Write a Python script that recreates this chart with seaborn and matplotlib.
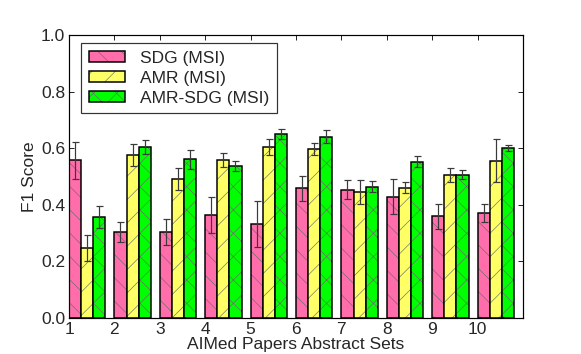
import numpy as np
import pandas as pd
import matplotlib
matplotlib.use("Agg")
import matplotlib.pyplot as plt
from matplotlib.colors import to_rgba
import seaborn as sns

sets = [1, 2, 3, 4, 5, 6, 7, 8, 9, 10]
methods = ["SDG (MSI)", "AMR (MSI)", "AMR-SDG (MSI)"]

sdg = [0.557, 0.305, 0.304, 0.363, 0.332, 0.459, 0.453, 0.428, 0.360, 0.371]
sdg_err = [0.066, 0.035, 0.046, 0.063, 0.080, 0.044, 0.034, 0.062, 0.044, 0.031]
amr = [0.248, 0.575, 0.491, 0.558, 0.604, 0.597, 0.446, 0.460, 0.504, 0.556]
amr_err = [0.045, 0.039, 0.040, 0.024, 0.027, 0.020, 0.042, 0.019, 0.025, 0.077]
amr_sdg = [0.356, 0.604, 0.561, 0.538, 0.650, 0.640, 0.464, 0.552, 0.506, 0.600]
amr_sdg_err = [0.039, 0.026, 0.034, 0.018, 0.019, 0.023, 0.020, 0.019, 0.016, 0.010]

colors = ["#ff6eaa", "#ffff66", "#00ff00"]
hatches = ["\\", "/", "x"]

df = pd.DataFrame({
    "set": sets * 3,
    "method": np.repeat(methods, len(sets)),
    "f1": sdg + amr + amr_sdg,
    "err": sdg_err + amr_err + amr_sdg_err,
})

# low dpi so the hatch spacing comes out close to the original
DPI = 70


def px(v):
    # size in pixels -> points
    return v * 72 / DPI


FS = px(17.4)

sns.set_style("ticks")
plt.rcParams["font.family"] = ["Liberation Sans", "DejaVu Sans"]
plt.rcParams["hatch.linewidth"] = px(0.6)

fig = plt.figure(figsize=(581 / DPI, 354 / DPI), dpi=DPI)
ax = fig.add_axes([69 / 581, 1 - 318 / 354, 454 / 581, 283 / 354])

sns.barplot(data=df, x="set", y="f1", hue="method", palette=colors,
            saturation=1, errorbar=None, width=0.8, edgecolor="black",
            linewidth=px(1.5), ax=ax)

for cont, h, m in zip(ax.containers, hatches, methods):
    errs = df.loc[df["method"] == m, "err"].values
    xs, ys = [], []
    for bar in cont:
        bar.set_hatch(h)
        bar._hatch_color = to_rgba("#6a6a6a")
        xs.append(bar.get_x() + bar.get_width() / 2)
        ys.append(bar.get_height())
    ax.errorbar(xs, ys, yerr=errs, fmt="none", ecolor="#3a3a3a",
                elinewidth=px(1.2), capsize=px(3.5), capthick=px(1.2))

ax.set_xticks(np.arange(len(sets)) - 0.4)
ax.set_xticklabels([str(s) for s in sets])
ax.set_xlim(-0.4, len(sets) - 0.4)
ax.set_ylim(0, 1.0)
ax.set_yticks([0.0, 0.2, 0.4, 0.6, 0.8, 1.0])
ax.tick_params(direction="in", top=True, right=True, labelsize=FS,
               length=px(5), width=px(1), pad=px(4))
ax.set_xlabel("AIMed Papers Abstract Sets", fontsize=FS, labelpad=px(0))
ax.set_ylabel("F1 Score", fontsize=FS, labelpad=px(4))
for s in ax.spines.values():
    s.set_linewidth(px(1.2))
    s.set_color("black")

leg = ax.legend(ax.containers, methods, loc="upper left",
                bbox_to_anchor=(12 / 454, 1 - 8 / 283), borderaxespad=0,
                fontsize=FS, frameon=True, fancybox=False, edgecolor="black",
                handlelength=2.1, handleheight=0.55, handletextpad=0.85,
                labelspacing=0.28, borderpad=0.45)
leg.get_frame().set_linewidth(px(1.2))

fig.savefig("out.png", dpi=DPI)
